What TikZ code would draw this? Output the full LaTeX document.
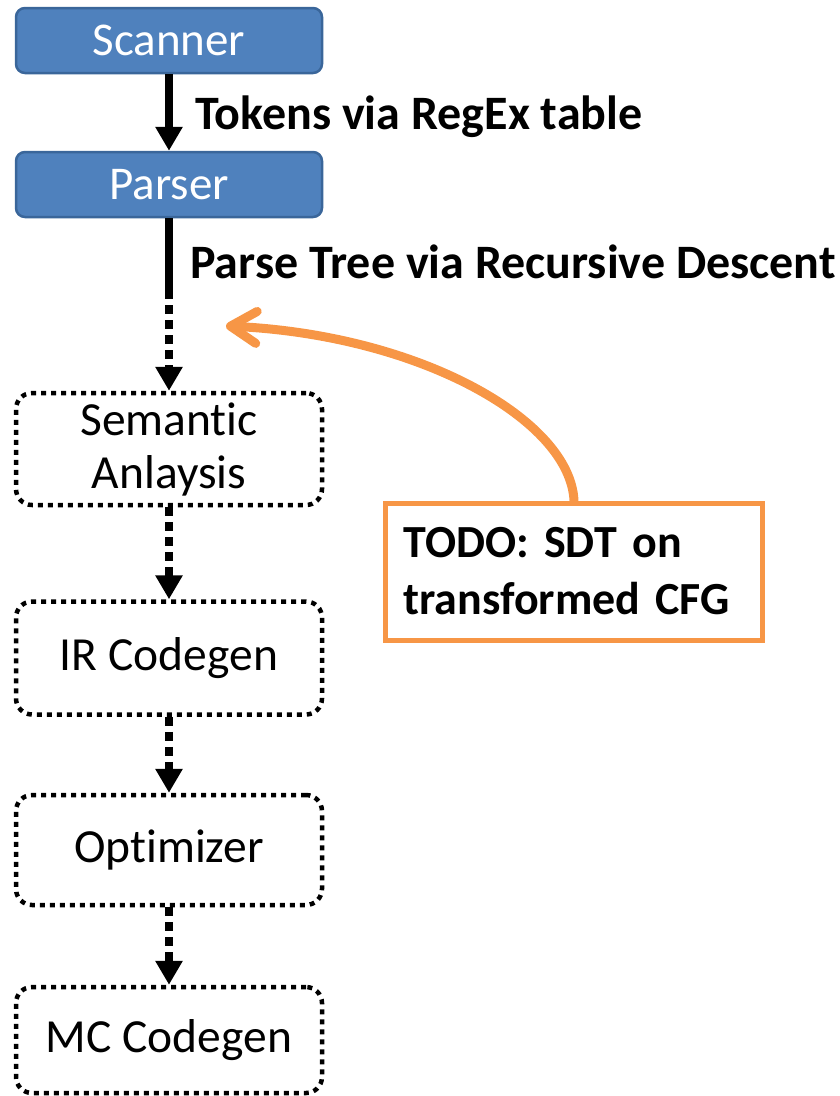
\documentclass[tikz,border=0pt]{standalone}
\usepackage{fontspec}
\setmainfont[Ligatures=NoCommon]{Carlito}
\usetikzlibrary{arrows.meta,positioning}
\definecolor{stageblue}{HTML}{4F81BD}
\definecolor{stageedge}{HTML}{3A669A}
\definecolor{noteorange}{HTML}{F79646}
\frenchspacing
\tikzset{
  donestage/.style={draw=stageedge, line width=2.5pt, fill=stageblue, rounded corners=9pt,
    minimum width=306pt, text=white, font=\fontsize{47}{53}\selectfont, inner sep=0pt},
  todostage/.style={draw=black, line width=4.5pt, dash pattern=on 5pt off 5pt,
    rounded corners=16pt, minimum width=306pt, font=\fontsize{47.5}{53}\selectfont,
    align=center, inner sep=0pt},
  solidflow/.style={line width=8pt, -{Triangle[length=24pt,width=26pt]}},
  dottedflow/.style={line width=8pt, dash pattern=on 9pt off 6pt, -{Triangle[length=24pt,width=26pt]}},
  flowlabel/.style={font=\bfseries\fontsize{48}{56}\selectfont, anchor=west, inner sep=0pt},
  notebox/.style={draw=noteorange, line width=5pt, fill=white, minimum width=377pt,
    minimum height=137pt, align=left, text width=340pt, inner sep=0pt,
    font=\bfseries\fontsize{46}{57}\selectfont},
  noteflow/.style={draw=noteorange, line width=9pt, line cap=round,
    -{Straight Barb[length=26pt,width=32pt,round]}}
}
\begin{document}
\begin{tikzpicture}[x=1pt,y=-1pt]
  \useasboundingbox (0,0) rectangle (840,1096);

  % stages of the compiler
  \node[donestage, minimum height=65pt] (scan) at (169,40.5) {Scanner};
  \node[donestage, minimum height=65pt] (parse) at (169,184.5) {Parser};
  \node[todostage, minimum height=112pt] (sem) at (169,449) {Semantic\\Anlaysis};
  \node[todostage, minimum height=113pt] (ir) at (169,658) {IR Codegen};
  \node[todostage, minimum height=110pt] (opt) at (169,850) {Optimizer};
  \node[todostage, minimum height=106pt] (mc) at (169,1040) {MC Codegen};

  % connectors between stages
  \draw[solidflow] (scan.south) -- (parse.north);
  \coordinate (split) at (169,290);
  \draw[line width=8pt] (parse.south) -- (split);
  \draw[dottedflow] (split) -- (sem.north);
  \draw[dottedflow] (sem.south) -- (ir.north);
  \draw[dottedflow] (ir.south) -- (opt.north);
  \draw[dottedflow] (opt.south) -- (mc.north);

  % connector labels
  \node[flowlabel] (toklbl) at (195,117) {Tokens via RegEx table};
  \node[flowlabel] (treelbl) at (190,262) {Parse Tree via Recursive Descent};

  % note with its pointer
  \node[notebox] (note) at (573.5,571.5) {TODO: SDT on\\transformed CFG};
  \coordinate (target) at (226,326);
  \draw[noteflow] (note.north -| 574,0) .. controls (570,420) and (420,335) .. (target);
\end{tikzpicture}
\end{document}
